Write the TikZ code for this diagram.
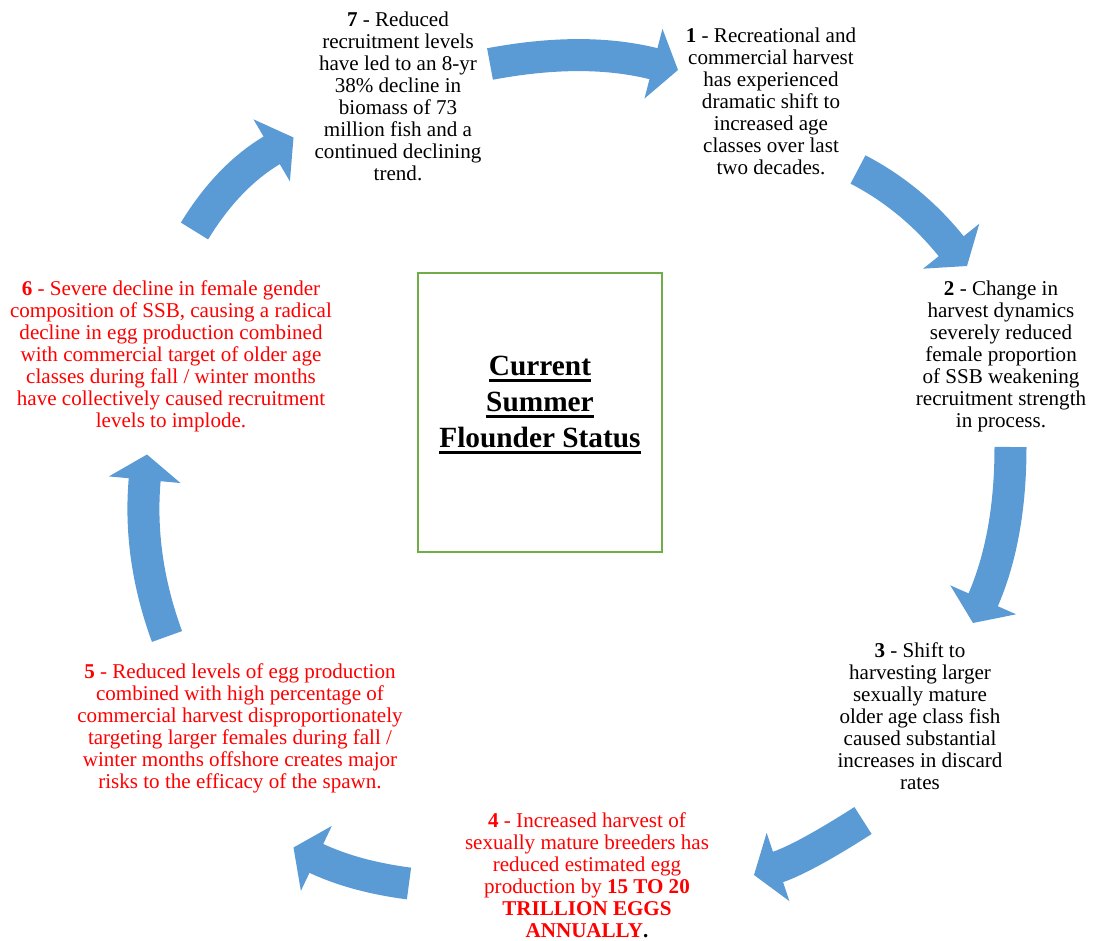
\documentclass[tikz,border=0pt]{standalone}
\usepackage{fontspec}
\setmainfont{Liberation Serif}
\usetikzlibrary{calc}
\definecolor{arrowblue}{HTML}{5B9BD5}
\definecolor{boxgreen}{HTML}{70AD47}
\definecolor{txtred}{HTML}{FF0000}
\newcommand\thickul[1]{\setbox0\hbox{#1}\makebox[0pt][l]{\raisebox{-5pt}{\rule{\wd0}{2pt}}}\box0}
\newcommand\cyclearrow[4]{%
  \coordinate (#1t) at #2;
  \coordinate (#1c) at #3;
  \coordinate (#1p) at #4;
  \coordinate (#1b) at ($(#1p)!19pt!(#1c)$);
  \coordinate (#1e) at ($(#1p)!17.5pt!(#1c)$);
  \draw[shaft] (#1t) .. controls ($(#1t)!0.6667!(#1c)$) and ($(#1e)!0.6667!(#1c)$) .. (#1e);
  \fill[headfill] (#1p) -- ($(#1b)!27pt!90:(#1p)$) -- ($(#1b)!27pt!-90:(#1p)$) -- cycle;
}
\begin{document}
\begin{tikzpicture}[x=0.75pt,y=-0.75pt,
  shaft/.style={draw=arrowblue, line width=24pt, line cap=butt},
  headfill/.style={fill=arrowblue},
  blurb/.style={align=center, font=\fontsize{15.8pt}{16.5pt}\selectfont, inner sep=0pt},
  redblurb/.style={blurb, text=txtred},
  statusbox/.style={draw=boxgreen, line width=1.5pt, minimum width=183pt, minimum height=209pt, inner sep=0pt},
  titletext/.style={align=center, font=\fontsize{22pt}{27pt}\selectfont\bfseries, inner sep=0pt}]
\useasboundingbox (0,0) rectangle (1093,941);

% centre box
\node[statusbox] (box) at (540,412.5) {};
\node[titletext] (title) at (540,405) {\thickul{Current}\\\thickul{Summer}\\\thickul{Flounder Status}};

% text blocks
\node[blurb] (t7) at (398,96.5) {\textbf{7} - Reduced\\recruitment levels\\have led to an 8-yr\\38\% decline in\\biomass of 73\\million fish and a\\continued declining\\trend.};
\node[blurb] (t1) at (771,101) {\textbf{1} - Recreational and\\commercial harvest\\has experienced\\dramatic shift to\\increased age\\classes over last\\two decades.};
\node[blurb] (t2) at (1001,356) {\textbf{2} - Change in\\harvest dynamics\\severely reduced\\female proportion\\of SSB weakening\\recruitment strength\\in process.};
\node[blurb] (t3) at (920,716) {\textbf{3} - Shift to\\harvesting larger\\sexually mature\\older age class fish\\caused substantial\\increases in discard\\rates};
\node[redblurb] (t4) at (587,875.5) {\textbf{4} - Increased harvest of\\sexually mature breeders has\\reduced estimated egg\\production by \textbf{15 TO 20}\\\textbf{TRILLION EGGS}\\\textbf{ANNUALLY}{\color{black}\textbf{.}}};
\node[redblurb] (t5) at (240,728) {\textbf{5} - Reduced levels of egg production\\combined with high percentage of\\commercial harvest disproportionately\\targeting larger females during fall /\\winter months offshore creates major\\risks to the efficacy of the spawn.};
\node[redblurb] (t6) at (171,356) {\textbf{6} - Severe decline in female gender\\composition of SSB, causing a radical\\decline in egg production combined\\with commercial target of older age\\classes during fall / winter months\\have collectively caused recruitment\\levels to implode.};

% curved block arrows: name, tail centre, tangent-intersection, tip
\cyclearrow{aa}{(490,64)}{(585.2,46.1)}{(678,70)}
\cyclearrow{ab}{(858,169.5)}{(912.4,197.7)}{(967,266)}
\cyclearrow{ac}{(1010.5,447)}{(1010.5,537.7)}{(973,623)}
\cyclearrow{ad}{(863,820.5)}{(803.8,858.4)}{(754,875)}
\cyclearrow{ae}{(409,883.5)}{(354.1,876.4)}{(293.5,847.5)}
\cyclearrow{af}{(167,636.5)}{(137.6,556.3)}{(147,454.5)}
\cyclearrow{ag}{(194.5,231)}{(228,176)}{(293.5,137.5)}
\end{tikzpicture}
\end{document}
